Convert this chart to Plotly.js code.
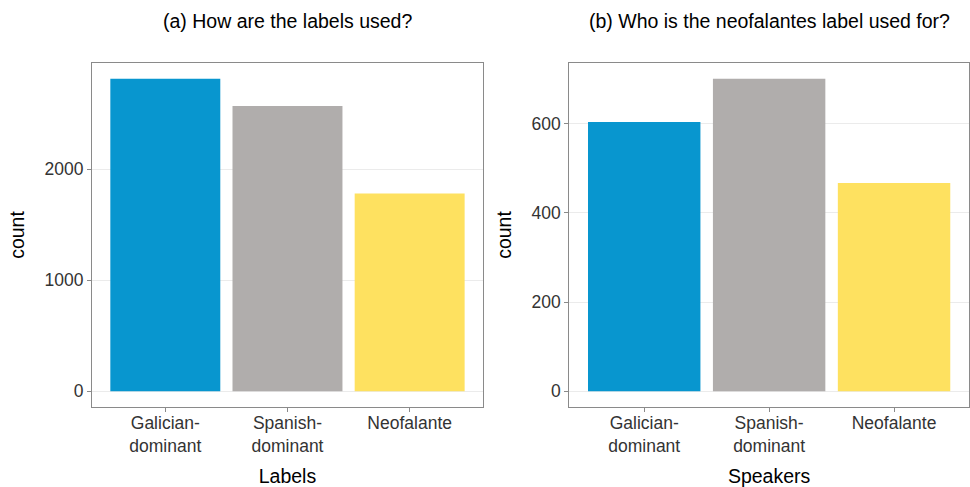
<!DOCTYPE html>
<html>
<head>
<meta charset="utf-8">
<script src="https://cdn.plot.ly/plotly-3.0.1.min.js"></script>
<style>html,body{margin:0;padding:0;background:#fff;}#chart{width:970px;height:487px;}</style>
</head>
<body>
<div id="chart"></div>
<script>
const categories = ["Galician-<br>dominant", "Spanish-<br>dominant", "Neofalante"];
const labelsCounts = [2816, 2570, 1782];
const speakersCounts = [604, 701, 467];
const barColors = ["#0896cf", "#b0adac", "#fee160"];
const titleA = "(a) How are the labels used?";
const titleB = "(b) Who is the neofalantes label used for?";
const xTitleA = "Labels";
const xTitleB = "Speakers";
const yTitle = "count";
const yTicksA = [0, 1000, 2000];
const yTicksB = [0, 200, 400, 600];

const FONT = "'Liberation Sans', Arial, sans-serif";
const tickFont = {family: FONT, size: 17.5, color: "#333333"};
const titleFont = {family: FONT, size: 19.5, color: "#000000"};
const lineCol = "#8a8a8a";

const traces = [
  {type: "bar", x: [0,1,2], y: labelsCounts, width: 0.9, marker: {color: barColors, line: {width: 0}}, xaxis: "x", yaxis: "y", hoverinfo: "skip", showlegend: false},
  {type: "bar", x: [0,1,2], y: speakersCounts, width: 0.9, marker: {color: barColors, line: {width: 0}}, xaxis: "x2", yaxis: "y2", hoverinfo: "skip", showlegend: false}
];

function xAxis(domain, anchor, title) {
  return {
    domain: domain, anchor: anchor, range: [-0.6, 2.6],
    tickmode: "array", tickvals: [0,1,2], ticktext: categories,
    showgrid: false, zeroline: false,
    showline: true, mirror: true, linecolor: lineCol, linewidth: 1,
    ticks: "outside", ticklen: 4, tickcolor: lineCol, tickwidth: 1,
    ticklabelstandoff: -4,
    tickfont: tickFont,
    title: {text: title, font: titleFont, standoff: 22},
    fixedrange: true
  };
}
function yAxis(domain, anchor, vals, maxv) {
  return {
    domain: domain, anchor: anchor, range: [-0.05*maxv, 1.05*maxv],
    tickmode: "array", tickvals: vals, ticktext: vals.map(String),
    showgrid: true, gridcolor: "#ebebeb", gridwidth: 1, zeroline: false,
    showline: true, mirror: true, linecolor: lineCol, linewidth: 1,
    ticks: "outside", ticklen: 4, tickcolor: lineCol, tickwidth: 1,
    tickfont: tickFont,
    title: {text: yTitle, font: titleFont, standoff: 14},
    fixedrange: true
  };
}

const layout = {
  width: 970, height: 487,
  margin: {l: 92, r: 1, t: 63, b: 80},
  paper_bgcolor: "#ffffff", plot_bgcolor: "#ffffff",
  font: {family: FONT},
  bargap: 0.1,
  xaxis: xAxis([0, 0.4458], "y", xTitleA),
  yaxis: yAxis([0, 1], "x", yTicksA, Math.max(...labelsCounts)),
  xaxis2: xAxis([0.5442, 1], "y2", xTitleB),
  yaxis2: yAxis([0, 1], "x2", yTicksB, Math.max(...speakersCounts)),
  annotations: [
    {text: titleA, xref: "paper", yref: "paper", x: 0.4458/2, y: 1, xanchor: "center", yanchor: "middle", yshift: 42, showarrow: false, font: titleFont},
    {text: titleB, xref: "paper", yref: "paper", x: (0.5442+1)/2, y: 1, xanchor: "center", yanchor: "middle", yshift: 42, showarrow: false, font: titleFont}
  ]
};

Plotly.newPlot("chart", traces, layout, {displayModeBar: false, staticPlot: true});
</script>
</body>
</html>
